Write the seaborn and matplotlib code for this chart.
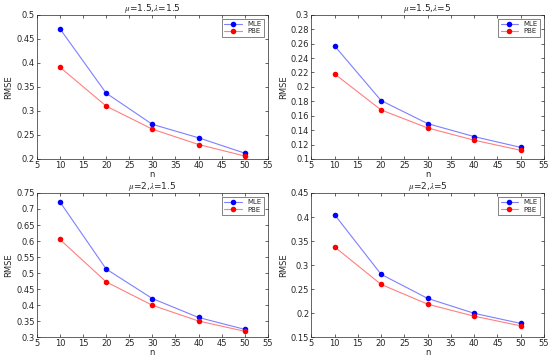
import numpy as np
import pandas as pd
import matplotlib
matplotlib.use("Agg")
import matplotlib.pyplot as plt
import seaborn as sns

n = [10, 20, 30, 40, 50]
titles = [r"$\mu$=1.5,$\lambda$=1.5", r"$\mu$=1.5,$\lambda$=5",
          r"$\mu$=2,$\lambda$=1.5", r"$\mu$=2,$\lambda$=5"]
mle = [
    [0.471, 0.337, 0.272, 0.244, 0.212],
    [0.257, 0.181, 0.149, 0.131, 0.116],
    [0.722, 0.513, 0.421, 0.362, 0.325],
    [0.405, 0.281, 0.231, 0.200, 0.179],
]
pbe = [
    [0.391, 0.310, 0.262, 0.230, 0.206],
    [0.218, 0.168, 0.143, 0.126, 0.112],
    [0.605, 0.473, 0.400, 0.351, 0.319],
    [0.338, 0.260, 0.219, 0.194, 0.174],
]
ylims = [(0.2, 0.5, 0.05), (0.1, 0.3, 0.02), (0.3, 0.75, 0.05), (0.15, 0.45, 0.05)]
xticks = [5, 10, 15, 20, 25, 30, 35, 40, 45, 50, 55]

sns.set_theme(style="white")
plt.rcParams['font.family'] = ['DejaVu Sans']
plt.rcParams['mathtext.fontset'] = 'stix'

fig = plt.figure(figsize=(5.5, 3.62), dpi=100)
positions = [
    [0.067, 0.561, 0.420, 0.398],
    [0.566, 0.561, 0.423, 0.398],
    [0.067, 0.068, 0.420, 0.399],
    [0.566, 0.068, 0.423, 0.399],
]

MC = ["#0000ff", "#ff0000"]
LC = ["#7f7fff", "#ff7f7f"]

def fmt(v):
    return ("%.2f" % v).rstrip("0").rstrip(".")

for i in range(4):
    ax = fig.add_axes(positions[i])
    df = pd.DataFrame({
        "n": n + n,
        "RMSE": mle[i] + pbe[i],
        "method": ["MLE"] * 5 + ["PBE"] * 5,
    })
    sns.lineplot(data=df, x="n", y="RMSE", hue="method",
                 palette={"MLE": MC[0], "PBE": MC[1]},
                 marker="o", markersize=4, markeredgewidth=0,
                 linewidth=0.8, ax=ax)
    for line, mc, lc in zip(ax.get_lines()[:2], MC, LC):
        line.set_color(lc)
        line.set_markerfacecolor(mc)
        line.set_markeredgecolor(mc)
    lo, hi, st = ylims[i]
    ax.set_xlim(5, 55)
    ax.set_ylim(lo, hi)
    ax.set_xticks(xticks)
    ax.set_xticklabels([str(x) for x in xticks])
    yt = np.round(np.arange(lo, hi + st / 2, st), 3)
    ax.set_yticks(yt)
    ax.set_yticklabels([fmt(v) for v in yt])
    ax.tick_params(axis="both", labelsize=6, direction="in", length=2.5,
                   width=0.5, pad=1.5, top=True, right=True,
                   bottom=True, left=True, colors="#262626")
    for sp in ax.spines.values():
        sp.set_visible(True)
        sp.set_linewidth(0.5)
        sp.set_color("#262626")
    ax.set_xlabel("n", fontsize=6, labelpad=0)
    ax.set_ylabel("RMSE", fontsize=6, labelpad=2)
    ax.set_title(titles[i], fontsize=6.5, pad=3)
    handles, labels = ax.get_legend_handles_labels()
    leg = ax.legend(handles, labels, loc="upper right", fontsize=5,
                    frameon=True, fancybox=False, borderpad=0.3,
                    handlelength=2.5, labelspacing=0.2, borderaxespad=0.6)
    leg.get_frame().set_edgecolor("#262626")
    leg.get_frame().set_linewidth(0.5)
    for lh, mc, lc in zip(leg.get_lines(), MC, LC):
        lh.set_color(lc)
        lh.set_marker("o")
        lh.set_markersize(4)
        lh.set_markerfacecolor(mc)
        lh.set_markeredgecolor(mc)

fig.savefig("out.png", dpi=100)
